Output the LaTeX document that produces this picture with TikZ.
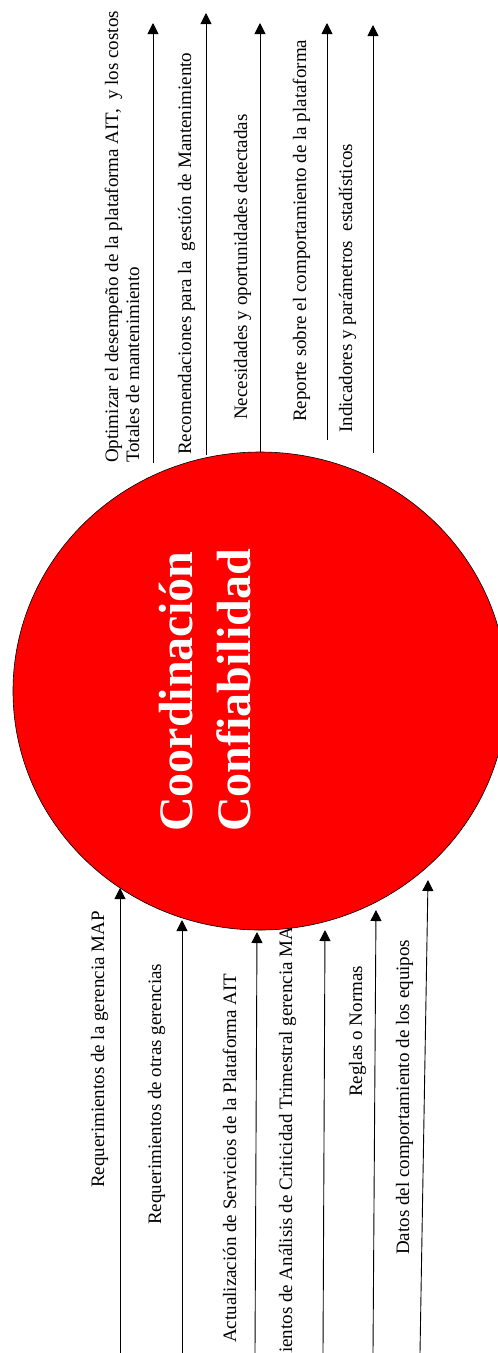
\documentclass[tikz,border=0pt]{standalone}
\usepackage{fontspec}
\setmainfont{Liberation Serif}
\usetikzlibrary{arrows.meta,shapes.geometric}
\tikzset{
  flow/.style={-{Triangle[length=11pt,width=11pt]}, line width=0.9pt},
  lbl/.style={rotate=90, anchor=base west, inner sep=0pt, font=\fontsize{19}{21}\selectfont},
  title/.style={rotate=90, anchor=base west, inner sep=0pt, text=white, font=\fontsize{48}{58}\selectfont\bfseries},
  unit/.style={ellipse, draw=black, fill=red, line width=0.6pt, minimum width=494pt, minimum height=478pt}
}

\begin{document}
\begin{tikzpicture}[x=1pt, y=-1pt]
  \useasboundingbox (0,0) rectangle (498,1353);
  \clip (0,0) rectangle (498,1353);
  \fill[white] (0,0) rectangle (498,1353);

  % Outputs
  \node[lbl, anchor=west, align=left] (optim) at (122,463) {Optimizar el desempeño de la plataforma AIT,~ y los costos\\Totales de mantenimiento};
  \node[lbl] (recom) at (191,455) {Recomendaciones para la~ gestión de Mantenimiento};
  \node[lbl] (neces) at (247,420) {Necesidades y oportunidades detectadas};
  \node[lbl] (report) at (306,422) {Reporte sobre el comportamiento de la plataforma};
  \node[lbl] (indic) at (352,433) {Indicadores y parámetros~ estadísticos};

  % Inputs
  \node[lbl] (reqmap) at (104,1188) {Requerimientos de la gerencia MAP};
  \node[lbl] (reqotr) at (161,1225) {Requerimientos de otras gerencias};
  \node[lbl] (actual) at (236,1343) {Actualización de Servicios de la Plataforma AIT};
  \node[lbl] (anali) at (292,1428) {Requerimientos de Análisis de Criticidad Trimestral gerencia MAP};
  \node[lbl] (reglas) at (362,1097) {Reglas o Normas};
  \node[lbl] (datos) at (409,1255) {Datos del comportamiento de los equipos};

  % arrow ends
  \coordinate (o1a) at (153,463);  \coordinate (o1b) at (153,23);
  \coordinate (o2a) at (206,455);  \coordinate (o2b) at (206,13);
  \coordinate (o3a) at (260,452);  \coordinate (o3b) at (260,23);
  \coordinate (o4a) at (327,440);  \coordinate (o4b) at (327,23);
  \coordinate (o5a) at (373,453);  \coordinate (o5b) at (373,25);
  \coordinate (i1a) at (120,1353); \coordinate (i1b) at (120,888);
  \coordinate (i2a) at (182,1353); \coordinate (i2b) at (182,920);
  \coordinate (i3a) at (255,1353); \coordinate (i3b) at (257,932);
  \coordinate (i4a) at (323,1353); \coordinate (i4b) at (325,930);
  \coordinate (i5a) at (373,1353); \coordinate (i5b) at (376,910);
  \coordinate (i6a) at (420,1353); \coordinate (i6b) at (428,880);

  % arrows
  \draw[flow] (o1a) -- (o1b);
  \draw[flow] (o2a) -- (o2b);
  \draw[flow] (o3a) -- (o3b);
  \draw[flow] (o4a) -- (o4b);
  \draw[flow] (o5a) -- (o5b);
  \draw[flow] (i1a) -- (i1b);
  \draw[flow] (i2a) -- (i2b);
  \draw[flow] (i3a) -- (i3b);
  \draw[flow] (i4a) -- (i4b);
  \draw[flow] (i5a) -- (i5b);
  \draw[flow] (i6a) -- (i6b);

  % central unit
  \node[unit] (coord) at (260,691) {};
  \node[title] (tit1) at (192,832) {Coordinación};
  \node[title] (tit2) at (250,832) {Confiabilidad};
\end{tikzpicture}
\end{document}
